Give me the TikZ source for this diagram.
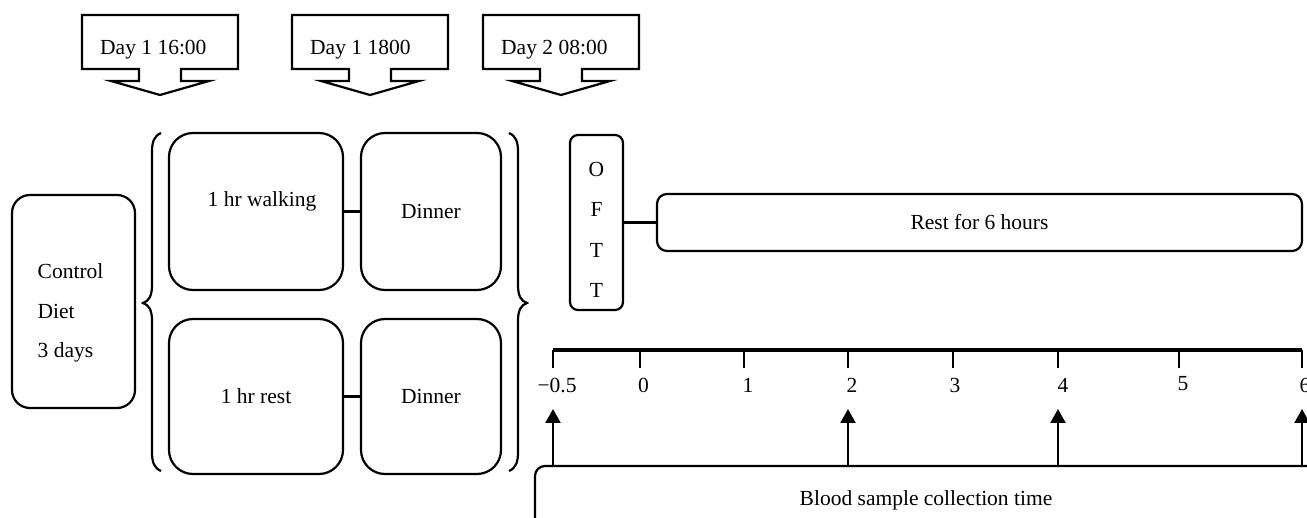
\documentclass[tikz,border=0pt]{standalone}
\usepackage{fontspec}
\setmainfont{Liberation Serif}
\usetikzlibrary{arrows.meta}
\tikzset{
  ln/.style={line width=2.2pt},
  txt/.style={inner sep=0pt, font=\fontsize{21.5}{25}\selectfont},
  rbox/.style={ln, draw, rounded corners=#1, inner sep=0pt, font=\fontsize{21.5}{25}\selectfont},
  rbox/.default=22pt,
  arr/.style={line width=2.2pt, -{Triangle[width=15pt,length=14pt]}},
  axisln/.style={line width=3.2pt},
}
\newcommand\daycallout[3]{%
  \draw[ln] (#1-78,15) -- (#1+78,15) -- (#1+78,69) -- (#1+21,69) -- (#1+21,81)
    -- (#1+49,81) -- (#1,95) -- (#1-49,81) -- (#1-21,81) -- (#1-21,69) -- (#1-78,69) -- cycle;
  \node[txt, anchor=base west] (#2) at (#1-60,55) {#3};}
\begin{document}
\begin{tikzpicture}[x=1pt,y=-1pt]
\useasboundingbox (0,0) rectangle (1307,518);

% time callouts
\daycallout{160}{day1}{Day 1 16:00}
\daycallout{370}{day2}{Day 1 1800}
\daycallout{561}{day3}{Day 2 08:00}

% control diet
\node[rbox=18pt, minimum width=123pt, minimum height=213pt] (ctrl) at (73.5,301.5) {};
\node[txt, anchor=base west] (c1) at (37.5,279) {Control};
\node[txt, anchor=base west] (c2) at (37.5,319) {Diet};
\node[txt, anchor=base west] (c3) at (37.5,358) {3 days};

% braces
\draw[ln] (161,133) .. controls (154,136) and (152,142) .. (152,152) -- (152,285)
  .. controls (152,296) and (149,301) .. (143,303)
  .. controls (149,305) and (152,310) .. (152,321) -- (152,452)
  .. controls (152,462) and (154,468) .. (161,471);
\draw[ln] (509,133) .. controls (516,136) and (518,142) .. (518,152) -- (518,285)
  .. controls (518,296) and (521,301) .. (527,303)
  .. controls (521,305) and (518,310) .. (518,321) -- (518,452)
  .. controls (518,462) and (516,468) .. (509,471);

% groups
\node[rbox=24pt, minimum width=174pt, minimum height=157pt] (walk) at (256,211.5) {};
\node[txt, anchor=base] (walkt) at (262,207) {1 hr walking};
\node[rbox=24pt, minimum width=140pt, minimum height=157pt] (din1) at (431,211.5) {Dinner};
\node[rbox=24pt, minimum width=174pt, minimum height=155pt] (rest1) at (256,396.5) {1 hr rest};
\node[rbox=24pt, minimum width=140pt, minimum height=155pt] (din2) at (431,396.5) {Dinner};
\draw[ln] (walk.east) -- (din1.west);
\draw[ln] (rest1.east) -- (din2.west);

% OFTT
\node[rbox=8pt, minimum width=53pt, minimum height=175pt] (oftt) at (596.5,222.5) {};
\foreach \y/\l [count=\i] in {177/O,217/F,258/T,298/T}
  \node[txt, anchor=base] (of\i) at (596.5,\y) {\l};
\node[rbox=10pt, minimum width=645pt, minimum height=57pt] (rest6) at (979.5,222.5) {Rest for 6 hours};
\draw[ln] (oftt.east) -- (rest6.west);

% timeline
\coordinate (ax0) at (553,350);
\coordinate (ax1) at (1302,350);
\draw[axisln] (ax0) -- (ax1);
\foreach \x [count=\i] in {553,640,744,848,953,1058,1179,1302} {
  \coordinate (tk\i) at (\x,350);
  \draw[ln] (tk\i) -- ++(0,18);
}
\foreach \x/\y/\l [count=\i] in {557/393/−0.5,643.5/393/0,748/393/1,852/393/2,955/393/3,1063/393/4,1183/391/5,1305/393/6}
  \node[txt, anchor=base] (lab\i) at (\x,\y) {\l};

% blood sampling
\node[rbox=10pt, minimum width=782pt, minimum height=68pt] (blood) at (926,500) {Blood sample collection time};
\foreach \x [count=\i] in {553,848,1058,1302} {
  \coordinate (up\i) at (\x,409);
  \draw[arr] (blood.north -| up\i) -- (up\i);
}
\end{tikzpicture}
\end{document}
